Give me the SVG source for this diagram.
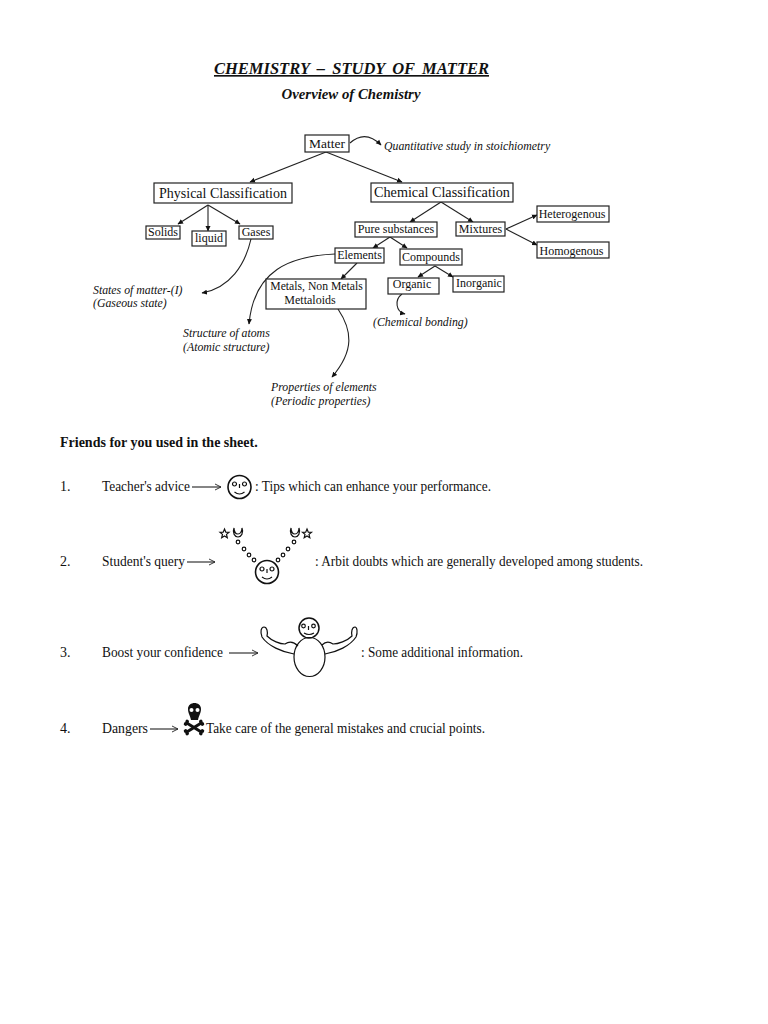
<svg xmlns="http://www.w3.org/2000/svg" width="768" height="1024" viewBox="0 0 768 1024">
<style>
text{font-family:"Liberation Serif",serif;fill:#111}
.b{fill:#fff;stroke:#222;stroke-width:1.2}
.n{font-size:12px}
.t{font-size:15px}
.i{font-size:11.8px;font-style:italic}
.l{fill:none;stroke:#222;stroke-width:1.1}
.f{fill:none;stroke:#111;stroke-width:1.2}
.k{fill:#111;stroke:none}
</style>
<defs>
<marker id="a" markerWidth="6" markerHeight="6" refX="5" refY="3" orient="auto" markerUnits="userSpaceOnUse"><path d="M0,0.5L5.5,3L0,5.500z" fill="#111"/></marker>
<marker id="o" markerWidth="8" markerHeight="8" refX="7" refY="4" orient="auto" markerUnits="userSpaceOnUse"><path d="M1,1L7,4L1,7" fill="none" stroke="#222" stroke-width="0.9"/></marker>
<g id="face"><circle cx="0" cy="0" r="11.500" fill="none" stroke="#111" stroke-width="1.600"/><circle cx="-5" cy="-3" r="2" class="f"/><circle cx="5" cy="-3" r="2" class="f"/><path d="M0,-3V1M-5,5Q0,9 5,5" class="f"/></g>
<g id="star"><path d="M0,-4.500L1.300,-1.300L4.500,-1.200L2,0.900L2.800,4.200L0,2.400L-2.800,4.200L-2,0.900L-4.500,-1.200L-1.300,-1.300z" class="f"/></g>
<g id="cup"><path d="M-4,-5C-6,0 -3,4 0,4C3,4 6,0 4,-5C4,-1 2,1 0,1C-2,1 -4,-1 -4,-5z" class="f"/></g>
<g id="bone"><path d="M-9,-1.500L9,-1.500L9,1.500L-9,1.500z" class="k"/><circle cx="-9" cy="-1.500" r="1.800" class="k"/><circle cx="-9" cy="1.500" r="1.800" class="k"/><circle cx="9" cy="-1.500" r="1.800" class="k"/><circle cx="9" cy="1.500" r="1.800" class="k"/></g>
</defs>
<text id="title" x="351.500" y="74" text-anchor="middle" style="font-size:16.500px;font-weight:bold;font-style:italic;word-spacing:3.200px" text-decoration="underline">CHEMISTRY – STUDY OF MATTER</text>
<text id="subtitle" x="351" y="99" text-anchor="middle" style="font-size:14.800px;font-weight:bold;font-style:italic">Overview of Chemistry</text>
<g id="connectors">
<path class="l" marker-end="url(#a)" d="M326,152L250,182"/>
<path class="l" marker-end="url(#a)" d="M326,152L402,182"/>
<path class="l" marker-end="url(#a)" d="M350,143C360,134 370,134 381,145"/>
<path class="l" marker-end="url(#a)" d="M208,205L178,224"/>
<path class="l" marker-end="url(#a)" d="M208,205V231"/>
<path class="l" marker-end="url(#a)" d="M208,205L240,224"/>
<path class="l" marker-end="url(#a)" d="M251,239C245,265 230,288 202,293"/>
<path class="l" marker-end="url(#a)" d="M441,202L410,222"/>
<path class="l" marker-end="url(#a)" d="M441,202L473,222"/>
<path class="l" marker-end="url(#a)" d="M390,237L373,248"/>
<path class="l" marker-end="url(#a)" d="M390,237L407,248"/>
<path class="l" marker-end="url(#a)" d="M506,229L537,215"/>
<path class="l" marker-end="url(#a)" d="M506,229L537,245"/>
<path class="l" marker-end="url(#a)" d="M335,254C290,256 254,270 249,324"/>
<path class="l" marker-end="url(#a)" d="M357,263L341,279"/>
<path class="l" marker-end="url(#a)" d="M338,309C352,330 355,350 332,377"/>
<path class="l" marker-end="url(#a)" d="M435,266L418,277"/>
<path class="l" marker-end="url(#a)" d="M435,266L453,277"/>
<path class="l" marker-end="url(#a)" d="M402,294C394,300 396,312 405,314"/>
</g>
<g id="matter"><rect class="b" x="305" y="135" width="44" height="17"/><text class="n" x="327" y="148" text-anchor="middle" style="font-size:13.500px">Matter</text></g>
<text id="quant" class="i" x="384" y="150">Quantitative study in stoichiometry</text>
<g id="physical"><rect class="b" x="154" y="183" width="138" height="20"/><text x="223" y="198" text-anchor="middle" style="font-size:14px">Physical Classification</text></g>
<g id="chemical"><rect class="b" x="371" y="183" width="142" height="19"/><text x="442" y="197" text-anchor="middle" style="font-size:14.200px">Chemical Classification</text></g>
<g id="solids"><rect class="b" x="146" y="226" width="34" height="13"/><text class="n" x="163" y="236" text-anchor="middle">Solids</text></g>
<g id="liquid"><rect class="b" x="192" y="231" width="34" height="15"/><text class="n" x="209" y="242" text-anchor="middle">liquid</text></g>
<g id="gases"><rect class="b" x="239" y="226" width="34" height="13"/><text class="n" x="256" y="236" text-anchor="middle">Gases</text></g>
<g id="pure"><rect class="b" x="355" y="222" width="82" height="15"/><text class="n" x="396" y="233" text-anchor="middle">Pure substances</text></g>
<g id="mixtures"><rect class="b" x="456" y="222" width="49" height="14"/><text class="n" x="480.500" y="233" text-anchor="middle">Mixtures</text></g>
<g id="hetero"><rect class="b" x="537" y="206" width="72" height="16"/><text class="n" x="572" y="218" text-anchor="middle">Heterogenous</text></g>
<g id="homo"><rect class="b" x="537" y="242" width="72" height="16"/><text class="n" x="571.500" y="255" text-anchor="middle">Homogenous</text></g>
<g id="elements"><rect class="b" x="335" y="248" width="49" height="15"/><text class="n" x="359.500" y="259" text-anchor="middle">Elements</text></g>
<g id="compounds"><rect class="b" x="400" y="249" width="62" height="16"/><text class="n" x="431" y="261" text-anchor="middle">Compounds</text></g>
<g id="metals"><rect class="b" x="266" y="279" width="100" height="30"/><text class="n" x="316.500" y="290" text-anchor="middle" style="font-size:11.700px">Metals, Non Metals</text><text class="n" x="310" y="304" text-anchor="middle">Mettaloids</text></g>
<g id="organic"><rect class="b" x="388" y="278" width="51" height="16"/><text class="n" x="412" y="288" text-anchor="middle">Organic</text></g>
<g id="inorganic"><rect class="b" x="453" y="276" width="51" height="16"/><text class="n" x="479" y="287" text-anchor="middle">Inorganic</text></g>
<text id="bonding" class="i" x="373" y="326">(Chemical bonding)</text>
<g id="notes">
<text class="i" x="93" y="294">States of matter-(I)</text>
<text class="i" x="93" y="307">(Gaseous state)</text>
<text class="i" x="183" y="337">Structure of atoms</text>
<text class="i" x="183" y="351">(Atomic structure)</text>
<text class="i" x="271" y="391">Properties of elements</text>
<text class="i" x="271" y="405">(Periodic properties)</text>
</g>
<text id="friends" x="60" y="447" style="font-size:14px;font-weight:bold">Friends for you used in the sheet.</text>
<g id="row1">
<text class="t" x="60" y="491" style="font-size:14px">1.</text>
<text class="t" x="102" y="491" textLength="88" lengthAdjust="spacingAndGlyphs">Teacher's advice</text>
<path class="l" marker-end="url(#o)" d="M192,487H221"/>
<use href="#face" x="239.500" y="487"/>
<text class="t" x="255" y="491" textLength="236" lengthAdjust="spacingAndGlyphs">: Tips which can enhance your performance.</text>
</g>
<g id="row2">
<text class="t" x="60" y="566" style="font-size:14px">2.</text>
<text class="t" x="102" y="566" textLength="83" lengthAdjust="spacingAndGlyphs">Student's query</text>
<path class="l" marker-end="url(#o)" d="M187,562H215"/>
<use href="#star" x="224.500" y="533.500"/><use href="#cup" x="238" y="533"/>
<use href="#star" x="307" y="533.500"/><use href="#cup" x="295" y="533"/>
<g class="f"><circle cx="238" cy="542" r="1.800"/><circle cx="244" cy="549" r="1.800"/><circle cx="249" cy="555" r="1.800"/><circle cx="254" cy="560" r="1.800"/><circle cx="278" cy="560" r="1.800"/><circle cx="283" cy="555" r="1.800"/><circle cx="288" cy="549" r="1.800"/><circle cx="294" cy="542" r="1.800"/></g>
<use href="#face" x="267" y="572"/>
<text class="t" x="315" y="566" textLength="328" lengthAdjust="spacingAndGlyphs">: Arbit doubts which are generally developed among students.</text>
</g>
<g id="row3">
<text class="t" x="60" y="657" style="font-size:14px">3.</text>
<text class="t" x="102" y="657" textLength="121" lengthAdjust="spacingAndGlyphs">Boost your confidence</text>
<path class="l" marker-end="url(#o)" d="M229,653H258"/>
<circle cx="309" cy="628" r="10" fill="none" stroke="#111" stroke-width="1.500"/><circle class="f" cx="303.500" cy="626" r="1.800"/><circle class="f" cx="313.500" cy="626" r="1.800"/><path class="f" d="M308.500,626V630M304,633Q309,636 314,633"/>
<ellipse class="f" cx="309.500" cy="657" rx="15.500" ry="19.500"/>
<path class="f" d="M294,654C282,652 268,646 262,637C260,632 261,627 264,627C267,627 268,632 267,636C272,641 280,644 285,644C288,642 293,641 298,646"/>
<path class="f" d="M325,654C337,652 350,646 356,637C358,632 357,627 355,627C352,627 351,632 352,636C347,641 338,644 333,644C330,642 326,641 322,645"/>
<text class="t" x="361" y="657" textLength="162" lengthAdjust="spacingAndGlyphs">: Some additional information.</text>
</g>
<g id="row4">
<text class="t" x="60" y="733" style="font-size:14px">4.</text>
<text class="t" x="102" y="733" textLength="46" lengthAdjust="spacingAndGlyphs">Dangers</text>
<path class="l" marker-end="url(#o)" d="M150,729H178"/>
<path class="k" d="M188,709C188,701 201,701 201,709C201,713 199,715 198,720H191C190,715 188,713 188,709z"/>
<circle cx="191.500" cy="710" r="2" fill="#fff"/><circle cx="197.500" cy="710" r="2" fill="#fff"/>
<use href="#bone" transform="translate(194,727.500) rotate(32)"/>
<use href="#bone" transform="translate(194,727.500) rotate(-32)"/>
<text class="t" x="206" y="733" textLength="279" lengthAdjust="spacingAndGlyphs">Take care of the general mistakes and crucial points.</text>
</g>
</svg>
